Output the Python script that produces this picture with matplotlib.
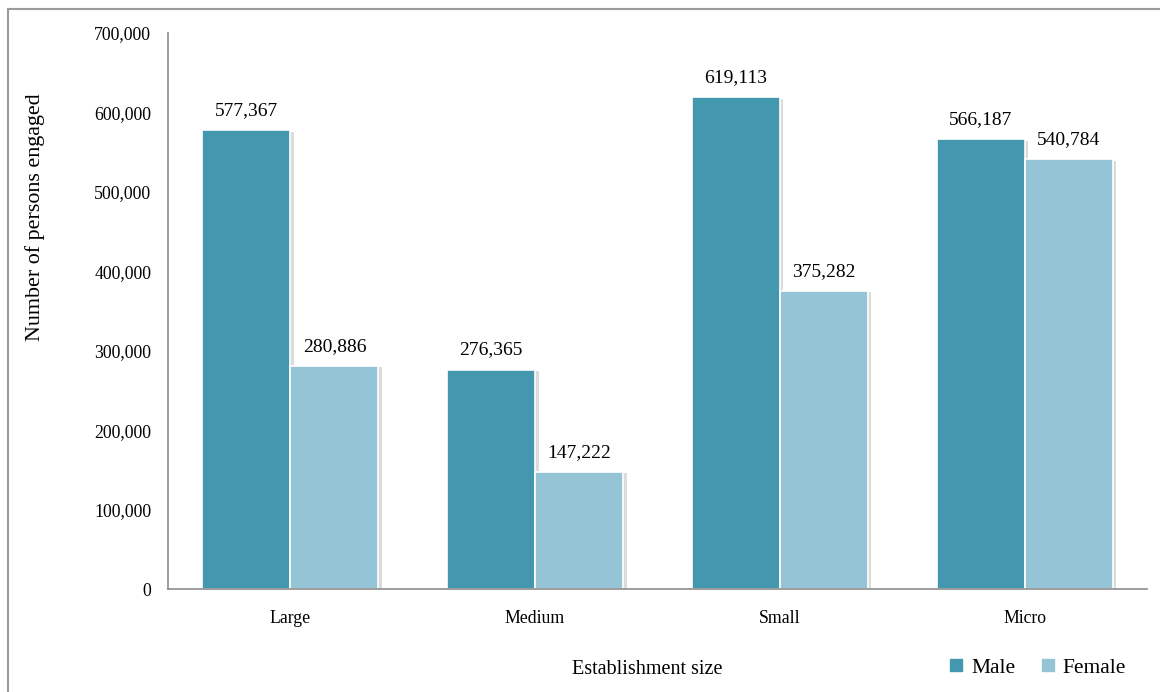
import numpy as np
import matplotlib.pyplot as plt
import matplotlib.patheffects as pe
from matplotlib.lines import Line2D
from matplotlib.ticker import FuncFormatter

plt.rcParams['font.family'] = ['Liberation Serif', 'DejaVu Serif']

sizes = ["Large", "Medium", "Small", "Micro"]
male = [577367, 276365, 619113, 566187]
female = [280886, 147222, 375282, 540784]

male_col = '#4398B0'
female_col = '#95C4D6'

fig = plt.figure(figsize=(11.6, 6.92), dpi=100)
ax = fig.add_axes([0.1448, 0.1488, 0.844, 0.8035])

x = np.arange(len(sizes))
w = 0.36
shadow = [pe.SimplePatchShadow(offset=(2.5, -1), shadow_rgbFace='#b0b0b0', alpha=0.45), pe.Normal()]

b1 = ax.bar(x - w / 2, male, w, color=male_col, edgecolor='white', linewidth=1.2, path_effects=shadow)
b2 = ax.bar(x + w / 2, female, w, color=female_col, edgecolor='white', linewidth=1.2, path_effects=shadow)

for bars, vals in [(b1, male), (b2, female)]:
    for b, v in zip(bars, vals):
        ax.annotate(f"{v:,}", (b.get_x() + b.get_width() / 2, v), xytext=(0, 8),
                    textcoords='offset points', ha='center', va='bottom', fontsize=14)

ax.set_xlim(-0.5, 3.5)
ax.set_ylim(0, 700000)
ax.set_yticks(np.arange(0, 700001, 100000))
ax.yaxis.set_major_formatter(FuncFormatter(lambda v, p: f"{int(v):,}"))
ax.set_xticks(x)
ax.set_xticklabels(sizes)
ax.tick_params(axis='both', length=0, labelsize=12.8)
ax.tick_params(axis='y', pad=12)
ax.tick_params(axis='x', pad=15)

for s in ['top', 'right']:
    ax.spines[s].set_visible(False)
for s in ['left', 'bottom']:
    ax.spines[s].set_color('#8c8c8c')
    ax.spines[s].set_linewidth(1.2)

fig.text(0.030, 0.686, "Number of persons engaged", rotation=90, ha='center', va='center', fontsize=15.8)
fig.text(0.558, 0.033, "Establishment size", ha='center', va='center', fontsize=14.5)

handles = [Line2D([], [], marker='s', linestyle='none', color=male_col, markersize=8),
           Line2D([], [], marker='s', linestyle='none', color=female_col, markersize=8)]
fig.legend(handles, ["Male", "Female"], loc='center', bbox_to_anchor=(0.893, 0.035),
           ncol=2, frameon=False, fontsize=15.5, handletextpad=0.2, columnspacing=1.0,
           handlelength=1.0)

# outer border (only top and left visible in the frame)
fig.add_artist(Line2D([0.007, 0.007], [0, 0.987], transform=fig.transFigure, color='#9a9a9a', lw=1.5))
fig.add_artist(Line2D([0.007, 1], [0.987, 0.987], transform=fig.transFigure, color='#9a9a9a', lw=1.5))

fig.savefig("out.png", dpi=100)
